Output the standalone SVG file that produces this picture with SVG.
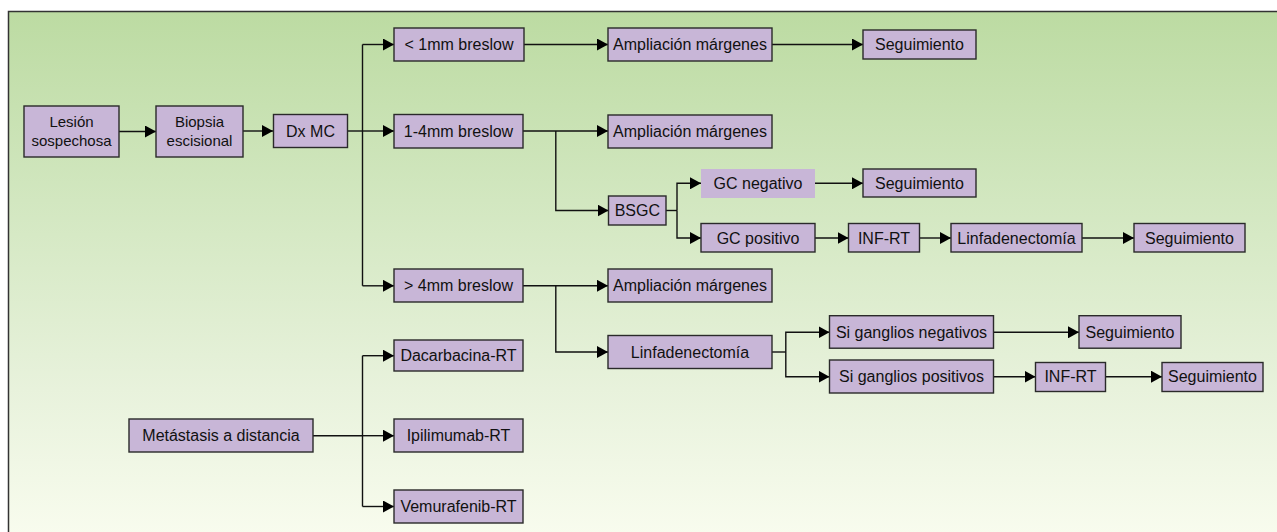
<svg xmlns="http://www.w3.org/2000/svg" width="1277" height="532" viewBox="0 0 1277 532">
<defs>
<linearGradient id="bg" x1="0" y1="0" x2="0" y2="1">
<stop offset="0" stop-color="#bcdba2"/>
<stop offset="0.35" stop-color="#d2e7c0"/>
<stop offset="0.7" stop-color="#e8f2dc"/>
<stop offset="1" stop-color="#fafdf0"/>
</linearGradient>
<marker id="ah" markerUnits="userSpaceOnUse" markerWidth="11" markerHeight="12" refX="11" refY="6" orient="auto">
<path d="M0,0 L11,6 L0,12 z" fill="#000"/>
</marker>
<style>
.b{fill:#c8b6d7;stroke:#2a2a2a;stroke-width:1.4}
.nb{fill:#c8b6d7;stroke:none}
.t{font-family:"Liberation Sans",Arial,sans-serif;font-size:16px;fill:#111;text-anchor:middle}
.s{font-size:15px}
.c{fill:none;stroke:#111;stroke-width:1.4}
.a{marker-end:url(#ah)}
</style>
</defs>
<rect x="8.5" y="11.5" width="1290" height="540" fill="url(#bg)" stroke="#333" stroke-width="1.5"/>

<g id="connectors">
<line class="c a" x1="119" y1="131.5" x2="156" y2="131.5"/>
<line class="c a" x1="243" y1="131" x2="273" y2="131"/>
<line class="c" x1="347" y1="131" x2="362.5" y2="131"/>
<line class="c" x1="362.5" y1="44.5" x2="362.5" y2="285.8"/>
<line class="c a" x1="362.5" y1="44.5" x2="394" y2="44.5"/>
<line class="c a" x1="362.5" y1="131" x2="394" y2="131"/>
<line class="c a" x1="362.5" y1="285.8" x2="394" y2="285.8"/>
<line class="c a" x1="524" y1="44.5" x2="608" y2="44.5"/>
<line class="c a" x1="772" y1="44.5" x2="863" y2="44.5"/>
<line class="c a" x1="523" y1="131" x2="608" y2="131"/>
<polyline class="c a" points="555.8,131 555.8,210.5 608.5,210.5"/>
<line class="c" x1="666" y1="210.5" x2="677" y2="210.5"/>
<polyline class="c a" points="677,210.5 677,183.3 701,183.3"/>
<polyline class="c a" points="677,210.5 677,238 701,238"/>
<line class="c a" x1="815" y1="183.3" x2="863" y2="183.3"/>
<line class="c a" x1="815" y1="238" x2="848.5" y2="238"/>
<line class="c a" x1="919.5" y1="238" x2="951" y2="238"/>
<line class="c a" x1="1082" y1="238" x2="1134" y2="238"/>
<line class="c a" x1="523" y1="285.8" x2="608" y2="285.8"/>
<polyline class="c a" points="555.8,285.8 555.8,352 608,352"/>
<line class="c" x1="772" y1="352" x2="785.8" y2="352"/>
<polyline class="c a" points="785.8,352 785.8,332.3 829.5,332.3"/>
<polyline class="c a" points="785.8,352 785.8,376.7 829.5,376.7"/>
<line class="c a" x1="994" y1="332.3" x2="1079" y2="332.3"/>
<line class="c a" x1="994" y1="376.7" x2="1035.5" y2="376.7"/>
<line class="c a" x1="1105.5" y1="376.7" x2="1162" y2="376.7"/>
<line class="c" x1="313" y1="435.7" x2="362.5" y2="435.7"/>
<line class="c" x1="362.5" y1="355.7" x2="362.5" y2="506.5"/>
<line class="c a" x1="362.5" y1="355.7" x2="394" y2="355.7"/>
<line class="c a" x1="362.5" y1="435.7" x2="394" y2="435.7"/>
<line class="c a" x1="362.5" y1="506.5" x2="394" y2="506.5"/>
</g>

<g id="n-lesion"><rect class="b" x="24" y="106" width="95" height="51"/><text class="t s" x="71.5" y="127">Lesión</text><text class="t s" x="71.5" y="146">sospechosa</text></g>
<g id="n-biopsia"><rect class="b" x="156" y="106" width="87" height="51"/><text class="t s" x="199.5" y="127">Biopsia</text><text class="t s" x="199.5" y="146">escisional</text></g>
<g id="n-dxmc"><rect class="b" x="273.5" y="114.5" width="74" height="33"/><text class="t" x="310.5" y="136.7">Dx MC</text></g>

<g id="n-lt1"><rect class="b" x="394" y="28" width="130" height="33"/><text class="t" x="459" y="50.2">&lt; 1mm breslow</text></g>
<g id="n-amp1"><rect class="b" x="608" y="28" width="164" height="33"/><text class="t" x="690" y="50.2">Ampliación márgenes</text></g>
<g id="n-seg1"><rect class="b" x="863" y="30" width="113" height="29"/><text class="t" x="919.5" y="50.2">Seguimiento</text></g>

<g id="n-14"><rect class="b" x="394" y="114.5" width="129" height="33.5"/><text class="t" x="458.5" y="136.7">1-4mm breslow</text></g>
<g id="n-amp2"><rect class="b" x="608" y="115" width="164" height="33"/><text class="t" x="690" y="136.7">Ampliación márgenes</text></g>
<g id="n-bsgc"><rect class="b" x="608.5" y="196" width="57.5" height="29"/><text class="t" x="637.3" y="216.2">BSGC</text></g>
<g id="n-gcneg"><rect class="nb" x="701" y="169" width="114" height="29"/><text class="t" x="758" y="189">GC negativo</text></g>
<g id="n-seg2"><rect class="b" x="863" y="169" width="113" height="28"/><text class="t" x="919.5" y="189">Seguimiento</text></g>
<g id="n-gcpos"><rect class="b" x="701" y="223.5" width="114" height="28.5"/><text class="t" x="758" y="243.7">GC positivo</text></g>
<g id="n-inf1"><rect class="b" x="848.5" y="223.5" width="71" height="28.5"/><text class="t" x="884" y="243.7">INF-RT</text></g>
<g id="n-linf1"><rect class="b" x="951" y="223.5" width="131" height="28.5"/><text class="t" x="1016.5" y="243.7">Linfadenectomía</text></g>
<g id="n-seg3"><rect class="b" x="1134" y="223.5" width="111" height="28.5"/><text class="t" x="1189.5" y="243.7">Seguimiento</text></g>

<g id="n-gt4"><rect class="b" x="394" y="269" width="129" height="33"/><text class="t" x="458.5" y="291.3">&gt; 4mm breslow</text></g>
<g id="n-amp3"><rect class="b" x="608" y="269" width="164" height="33"/><text class="t" x="690" y="291.3">Ampliación márgenes</text></g>
<g id="n-linf2"><rect class="b" x="608" y="335.5" width="164" height="33"/><text class="t" x="690" y="357.7">Linfadenectomía</text></g>
<g id="n-sineg"><rect class="b" x="829.5" y="315.7" width="164" height="32.5"/><text class="t" x="911.5" y="338">Si ganglios negativos</text></g>
<g id="n-seg4"><rect class="b" x="1079" y="315.7" width="102" height="32.5"/><text class="t" x="1130" y="338">Seguimiento</text></g>
<g id="n-sipos"><rect class="b" x="829.5" y="360" width="164" height="33"/><text class="t" x="911.5" y="382.4">Si ganglios positivos</text></g>
<g id="n-inf2"><rect class="b" x="1035.5" y="362.5" width="70" height="29"/><text class="t" x="1070.5" y="382.4">INF-RT</text></g>
<g id="n-seg5"><rect class="b" x="1162" y="362.5" width="101" height="29"/><text class="t" x="1212.5" y="382.4">Seguimiento</text></g>

<g id="n-meta"><rect class="b" x="129" y="419" width="184" height="33"/><text class="t" x="221" y="441.4">Metástasis a distancia</text></g>
<g id="n-daca"><rect class="b" x="394" y="340" width="129" height="31"/><text class="t" x="458.5" y="361.4">Dacarbacina-RT</text></g>
<g id="n-ipi"><rect class="b" x="394" y="419" width="129" height="33"/><text class="t" x="458.5" y="441.4">Ipilimumab-RT</text></g>
<g id="n-vemu"><rect class="b" x="394" y="490" width="129" height="33"/><text class="t" x="458.5" y="512.2">Vemurafenib-RT</text></g>
</svg>
